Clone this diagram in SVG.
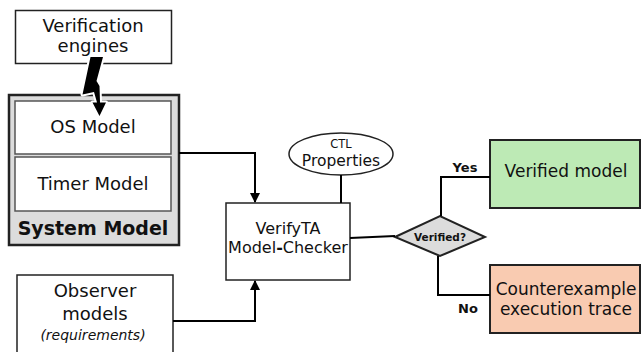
<svg xmlns="http://www.w3.org/2000/svg" width="642" height="352" viewBox="0 0 642 352">
<defs>
<style>
text{font-family:"DejaVu Sans","Liberation Sans",sans-serif;fill:#111;text-anchor:middle}
.box{fill:#fff;stroke:#222;stroke-width:1.5}
.inner{fill:#fff;stroke:#555;stroke-width:1.5}
.conn{fill:none;stroke:#000;stroke-width:2}
.b{font-weight:bold}
</style>
<marker id="arr" viewBox="0 0 10 10" refX="9" refY="5" markerWidth="10" markerHeight="10" markerUnits="userSpaceOnUse" orient="auto">
<path d="M0,0 L10,5 L0,10 Z" fill="#000"/>
</marker>
</defs>
<rect width="642" height="352" fill="#fff"/>
<g id="verification-engines">
<rect class="box" x="15.5" y="10.5" width="156" height="53"/>
<text x="93" y="32" font-size="18">Verification</text>
<text x="93" y="52" font-size="18">engines</text>
</g>
<g id="system-model">
<rect x="9" y="95" width="170" height="150" fill="#dcdcdc" stroke="#222" stroke-width="2.5"/>
<text class="b" x="93" y="235" font-size="19">System Model</text>
</g>
<g id="os-model">
<rect class="inner" x="15" y="101" width="156" height="53"/>
<text x="93" y="133" font-size="18">OS Model</text>
</g>
<g id="timer-model">
<rect class="inner" x="15" y="157" width="156" height="54"/>
<text x="93" y="190" font-size="18">Timer Model</text>
</g>
<g id="bolt">
<polygon points="90.5,57 103,57 96.5,81 99.5,86 100,102.5 106,102.5 99.5,116 92.5,102.5 97,102.5 94,92 82.5,94.5" fill="#fff" stroke="#fff" stroke-width="4" stroke-linejoin="round"/>
<polygon points="90.5,57 103,57 96.5,81 99.5,86 100,102.5 106,102.5 99.5,116 92.5,102.5 97,102.5 94,92 82.5,94.5" fill="#000"/>
</g>
<g id="observer-models">
<rect class="box" x="17" y="275" width="156" height="90"/>
<text x="95" y="297" font-size="18">Observer</text>
<text x="95" y="320" font-size="18">models</text>
<text x="93" y="340" font-size="14" font-style="italic">(requirements)</text>
</g>
<g id="ctl-properties">
<ellipse cx="341" cy="154" rx="52" ry="21" fill="#fff" stroke="#222" stroke-width="1.5"/>
<text x="341" y="148" font-size="11.5">CTL</text>
<text x="341" y="166" font-size="15.5">Properties</text>
</g>
<g id="verifyta">
<rect class="box" x="226" y="203" width="124" height="77"/>
<text x="288" y="234" font-size="16">VerifyTA</text>
<text x="288" y="253" font-size="16">Model<tspan class="b">-</tspan>Checker</text>
</g>
<g id="verified-decision">
<polygon points="395,237 440,216 485,237 440,256" fill="#dcdcdc" stroke="#222" stroke-width="2"/>
<text class="b" x="440" y="241" font-size="10.5">Verified?</text>
</g>
<g id="verified-model">
<rect x="490" y="140" width="150" height="68" fill="#bdeab5" stroke="#222" stroke-width="2"/>
<text x="566" y="177" font-size="17">Verified model</text>
</g>
<g id="counterexample">
<rect x="490" y="265" width="150" height="68" fill="#f9cbb1" stroke="#222" stroke-width="2"/>
<text x="566" y="295" font-size="17">Counterexample</text>
<text x="566" y="315" font-size="17">execution trace</text>
</g>
<g id="connectors">
<path class="conn" d="M179,153 H255 V202" marker-end="url(#arr)"/>
<path class="conn" d="M173,321 H255 V281" marker-end="url(#arr)"/>
<path class="conn" d="M341,175 V203"/>
<path class="conn" d="M350,238 L395,236"/>
<path class="conn" d="M441,216 V177 H490"/>
<path class="conn" d="M438,256 V295 H490"/>
<text class="b" x="465" y="172" font-size="13">Yes</text>
<text class="b" x="468" y="313" font-size="13">No</text>
</g>
</svg>
